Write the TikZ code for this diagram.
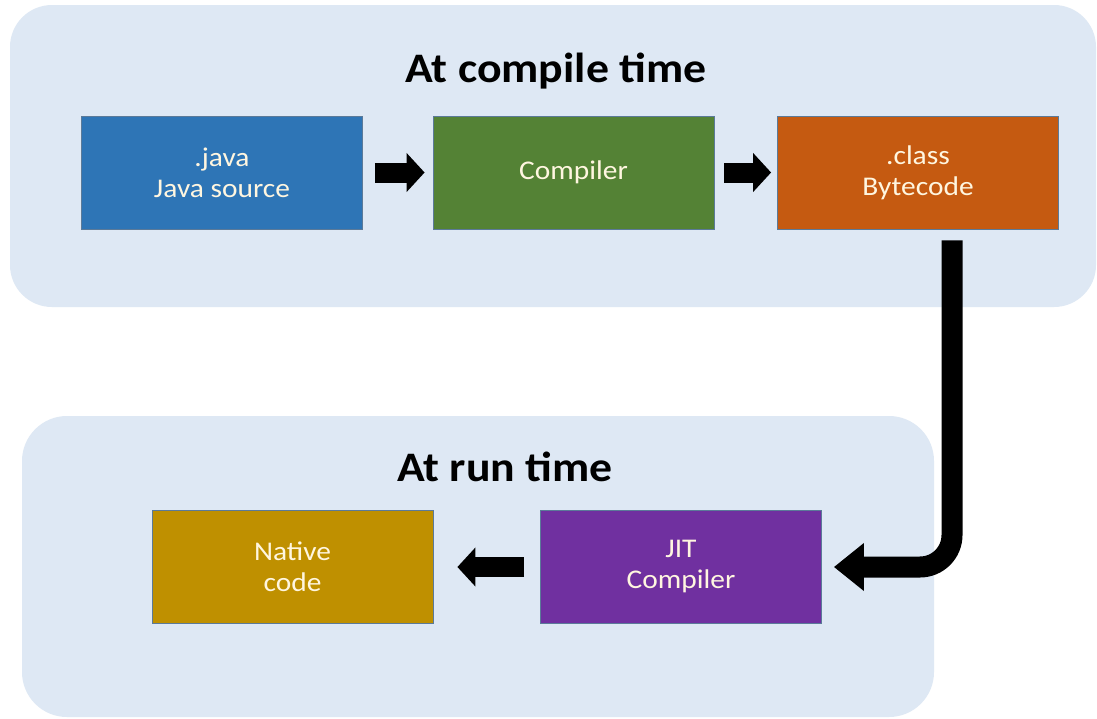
\documentclass[tikz,border=0pt]{standalone}
\usepackage{fontspec}
\setmainfont[FakeStretch=1.09]{Carlito}
\usetikzlibrary{arrows.meta,calc}
\definecolor{panel}{HTML}{DEE8F4}
\definecolor{cjava}{HTML}{2E75B6}
\definecolor{ccomp}{HTML}{548235}
\definecolor{cclass}{HTML}{C55A11}
\definecolor{cnative}{HTML}{BF9000}
\definecolor{cjit}{HTML}{7030A0}
\definecolor{edge}{HTML}{5B7A99}
\definecolor{txt}{HTML}{FFF6E0}
\tikzset{
  stage/.style={draw=edge, line width=0.8pt, minimum width=281pt, minimum height=113pt,
    inner sep=0pt, text=txt, align=center, font=\fontsize{27}{31}\selectfont},
  blockarrow/.style={line width=20pt, line cap=butt, -{Triangle[length=18pt,width=38pt]}},
  bigarrow/.style={line width=21pt, line cap=butt, rounded corners=32pt,
    -{Triangle[length=30pt,width=46pt]}},
  title/.style={font=\fontsize{42}{46}\selectfont\bfseries, text=black}
}
\begin{document}
\begin{tikzpicture}[x=1pt,y=-1pt]
\useasboundingbox (0,0) rectangle (1097,718);
\fill[white] (0,0) rectangle (1097,718);
% panels
\fill[panel, rounded corners=42pt] (10,5) rectangle (1096,307);
\fill[panel, rounded corners=45pt] (22,416) rectangle (934,717);
\node[title] (t1) at (556,71) {At compile time};
\node[title] (t2) at (505,467) {At run time};
% boxes
\node[stage, fill=cjava] (java) at (222,172.5) {\raisebox{-3pt}{\parbox{250pt}{\centering .java\\Java source}}};
\node[stage, fill=ccomp] (comp) at (573.5,172.5) {\raisebox{-2pt}{Compiler}};
\node[stage, fill=cclass] (class) at (918,172.5) {\raisebox{-3pt}{\parbox{250pt}{\centering .class\\Bytecode}}};
\node[stage, fill=cnative] (native) at (292.5,567) {\raisebox{-3pt}{\parbox{250pt}{\centering Native\\code}}};
\node[stage, fill=cjit] (jit) at (681,567) {\raisebox{-3pt}{\parbox{250pt}{\centering JIT\\Compiler}}};
% arrows
\draw[blockarrow, shorten <=12pt, shorten >=8pt] (java.east) -- (comp.west);
\draw[blockarrow, shorten <=10pt, shorten >=6pt] (comp.east) -- (class.west);
\draw[blockarrow, shorten <=16pt, shorten >=24pt] (jit.west) -- (native.east);
\draw[bigarrow, shorten <=11pt, shorten >=12pt] ([xshift=34pt]class.south) |- (jit.east);
\end{tikzpicture}
\end{document}
